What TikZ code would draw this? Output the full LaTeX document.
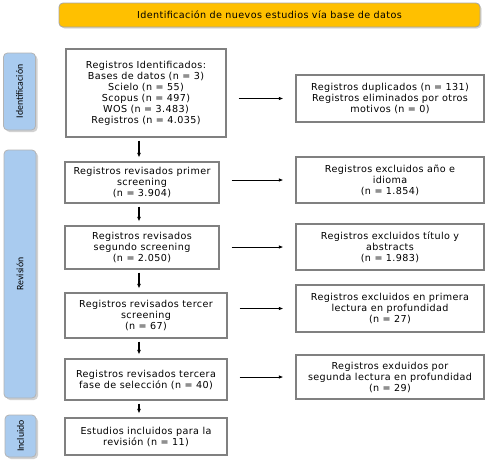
\documentclass[tikz,border=0pt]{standalone}
\usepackage{fontspec}
\setmainfont[LetterSpace=4]{DejaVu Sans}
\newfontfamily\labelfont{Carlito}
\usetikzlibrary{arrows.meta,shadows}
\definecolor{BannerClr}{HTML}{FFC000}
\definecolor{PhaseClr}{HTML}{A9CBEF}
\definecolor{EdgeClr}{HTML}{808080}

\begin{document}
\begin{tikzpicture}[x=1pt,y=-1pt,
  caja/.style={draw=EdgeClr,line width=1.2pt,fill=white,align=center,inner sep=1pt,
    font=\fontsize{9.6}{11}\selectfont},
  fase/.style={draw=EdgeClr!60,fill=PhaseClr,rounded corners=4pt,line width=.8pt,
    drop shadow={shadow xshift=2pt,shadow yshift=-2pt,fill=black!35},
    rotate=90,inner sep=0pt,font=\labelfont\fontsize{9.8}{10}\selectfont},
  flecha/.style={-{Latex[length=4.5pt,width=4pt]},line width=1.3pt,shorten <=3pt,shorten >=4pt},
  lado/.style={-{Latex[length=4.5pt,width=3.5pt]},line width=.9pt,shorten <=12pt,shorten >=12pt}]
\useasboundingbox (0,0) rectangle (492,474);

\node[draw=EdgeClr!70,fill=BannerClr,rounded corners=4pt,line width=.8pt,
  drop shadow={shadow xshift=1.5pt,shadow yshift=-1.5pt,fill=black!30},
  minimum width=421pt,minimum height=24pt,font=\fontsize{9.6}{11}\selectfont]
  (banner) at (269.5,15) {Identificación de nuevos estudios vía base de datos};

\node[fase,minimum width=77pt,minimum height=32pt] (ident) at (19.5,91.5) {Identificación};
\node[fase,minimum width=248pt,minimum height=32pt] (revis) at (20,274) {Revisión};
\node[fase,minimum width=42pt,minimum height=31pt] (incl) at (20.5,436) {Incluido};

\node[caja,minimum width=160pt,minimum height=88pt] (b1) at (146,93)
  {Registros Identificados:\\Bases de datos (n = 3)\\Scielo (n = 55)\\Scopus (n = 497)\\WOS (n = 3.483)\\Registros (n = 4.035)};
\node[caja,minimum width=154pt,minimum height=41pt] (b2) at (142,182.5)
  {Registros revisados primer\\screening\\(n = 3.904)};
\node[caja,minimum width=154pt,minimum height=43pt] (b3) at (142,247.5)
  {Registros revisados\\segundo screening\\(n = 2.050)};
\node[caja,minimum width=162pt,minimum height=45pt] (b4) at (146,315.5)
  {Registros revisados tercer\\screening\\(n = 67)};
\node[caja,minimum width=162pt,minimum height=41pt] (b5) at (146,379.5)
  {Registros revisados tercera\\fase de selección (n = 40)};
\node[caja,minimum width=162pt,minimum height=37pt] (b6) at (146,436.5)
  {Estudios incluidos para la\\revisión (n = 11)};

\node[caja,minimum width=188pt,minimum height=47pt] (r1) at (390,98.5)
  {Registros duplicados (n = 131)\\Registros eliminados por otros\\motivos (n = 0)};
\node[caja,minimum width=188pt,minimum height=46pt] (r2) at (390,180)
  {Registros excluidos año e\\idioma\\(n = 1.854)};
\node[caja,minimum width=188pt,minimum height=46pt] (r3) at (390,247)
  {Registros excluidos título y\\abstracts\\(n = 1.983)};
\node[caja,minimum width=188pt,minimum height=47pt] (r4) at (390,308.5)
  {Registros excluidos en primera\\lectura en profundidad\\(n = 27)};
\node[caja,minimum width=188pt,minimum height=44pt] (r5) at (390,377)
  {Registros exduidos por\\segunda lectura en profundidad\\(n = 29)};

\coordinate (eje) at (139,0);
\foreach \a/\b in {b1/b2,b2/b3,b3/b4,b4/b5,b5/b6}
  \draw[flecha] (\a.south -| eje) -- (\b.north -| eje);

\foreach \a/\b in {b1/r1,b2/r2,b3/r3,b4/r4,b5/r5}
  \draw[lado] (\a.east |- \b.west) -- (\b.west);

\end{tikzpicture}
\end{document}
